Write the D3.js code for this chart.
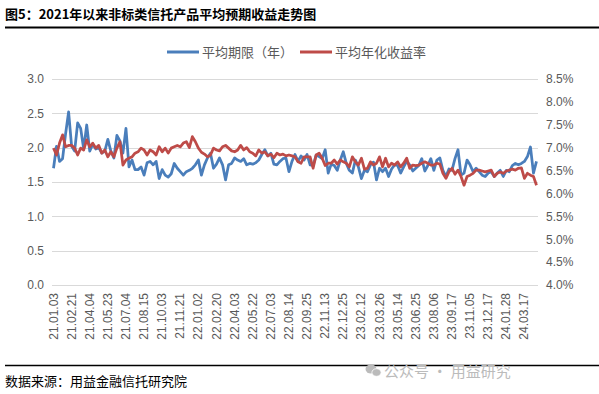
<!DOCTYPE html>
<html>
<head>
<meta charset="utf-8">
<script src="https://cdn.jsdelivr.net/npm/d3@7"></script>
<style>
  body { margin: 0; background: #fff; }
  text { font-family: "Liberation Sans", Arial, "Noto Sans CJK SC", sans-serif; }
  .cjk { font-family: "Noto Sans CJK SC", "Liberation Sans", sans-serif; }
</style>
</head>
<body>
<div id="chart"></div>
<script>
// x tick labels, one every 6 weekly points
var tickLabels = ["21.01.03","21.02.21","21.04.04","21.05.23","21.07.04","21.08.15","21.10.03",
  "21.11.21","22.01.02","22.02.20","22.04.03","22.05.22","22.07.03","22.08.14","22.09.25",
  "22.11.13","22.12.25","23.02.12","23.03.26","23.05.14","23.06.25","23.08.06","23.09.17",
  "23.11.05","23.12.17","24.01.28","24.03.17"];

// 平均期限（年）
var termYears = [
  1.70,2.02,1.80,1.84,2.20,2.52,2.02,1.95,2.36,2.28,1.98,2.33,1.95,2.05,1.98,2.00,1.92,1.95,2.12,1.95,
  1.85,2.18,2.10,1.92,2.28,1.72,1.82,1.68,1.68,1.72,1.60,1.78,1.80,1.75,1.80,1.55,1.68,1.60,1.57,1.62,
  1.77,1.70,1.65,1.60,1.65,1.67,1.70,1.75,1.82,1.60,1.75,1.85,1.92,1.70,1.76,1.85,1.75,1.53,1.75,1.77,
  1.85,1.82,1.80,1.84,1.75,1.77,1.76,1.78,1.82,1.90,1.97,1.88,1.92,1.76,1.75,1.80,1.84,1.85,1.65,1.80,
  1.90,
  1.80,1.88,1.82,1.90,1.75,1.74,1.89,1.87,1.84,1.97,1.63,1.76,1.74,1.67,1.82,1.94,1.77,1.67,1.63,1.82,
  1.72,1.55,1.67,1.65,1.75,1.79,1.53,1.70,1.65,1.70,1.58,1.69,1.75,1.74,1.63,1.72,1.80,1.75,1.66,1.70,
  1.74,
  1.84,1.66,1.74,1.84,1.67,1.82,1.85,1.67,1.58,1.69,1.67,1.84,1.97,1.60,1.63,1.82,1.75,1.65,1.70,1.65,
  1.60,1.58,1.63,1.65,1.58,1.63,1.67,1.58,1.67,1.65,1.74,1.77,1.75,1.77,1.80,1.87,2.01,1.63,1.80
];

// 平均年化收益率 (%)
var yieldPct = [
  6.99,6.84,7.10,7.28,7.02,7.05,7.05,6.99,6.84,6.99,6.95,7.17,7.02,7.10,6.99,7.05,6.88,6.95,6.80,6.91,
  6.80,6.99,7.13,6.62,6.73,6.77,6.80,6.88,6.91,6.99,6.95,6.84,6.95,6.91,6.84,7.02,6.91,6.99,6.88,6.99,
  7.02,7.05,7.02,7.10,7.13,7.00,7.24,7.13,6.99,6.90,6.86,6.80,6.84,6.99,6.95,6.93,7.02,7.05,6.99,6.93,
  6.91,6.95,7.05,6.95,7.00,6.91,6.88,6.82,6.95,6.88,6.91,6.82,6.86,6.78,6.88,6.84,6.86,6.82,6.84,6.82,
  6.80,
  6.69,6.66,6.80,6.80,6.80,6.55,6.84,6.88,6.77,6.61,6.66,6.66,6.73,6.64,6.73,6.69,6.66,6.58,6.80,6.69,
  6.62,6.77,6.53,6.55,6.69,6.62,6.66,6.80,6.58,6.77,6.58,6.66,6.62,6.69,6.58,6.66,6.77,6.55,6.62,6.61,
  6.62,
  6.66,6.69,6.66,6.62,6.62,6.66,6.64,6.44,6.33,6.47,6.55,6.42,6.51,6.37,6.18,6.37,6.40,6.44,6.51,6.51,
  6.49,6.47,6.49,6.51,6.37,6.44,6.47,6.44,6.49,6.51,6.53,6.51,6.55,6.56,6.33,6.44,6.40,6.37,6.18
];

var leftTicks = [0, 0.5, 1.0, 1.5, 2.0, 2.5, 3.0];
var rightTicks = [4.0, 4.5, 5.0, 5.5, 6.0, 6.5, 7.0, 7.5, 8.0, 8.5];

var width = 599, height = 394;
var plot = {left: 52, right: 538, top: 79, bottom: 285};
var blue = "#4a7ebb", red = "#be4b48", labelColor = "#595959";

var svg = d3.select("#chart").append("svg")
  .attr("width", width)
  .attr("height", height);

// title
svg.append("text")
  .attr("class", "cjk")
  .attr("x", 5).attr("y", 19)
  .attr("font-size", 13).attr("font-weight", "bold")
  .attr("fill", "#000")
  .text("图5：2021年以来非标类信托产品平均预期收益走势图");
svg.append("line")
  .attr("x1", 5).attr("x2", width).attr("y1", 27.5).attr("y2", 27.5)
  .attr("stroke", "#000").attr("stroke-width", 2);

var x = d3.scaleBand()
  .domain(d3.range(termYears.length))
  .range([plot.left, plot.right]);

var yL = d3.scaleLinear().domain([0, 3]).range([plot.bottom, plot.top]);
var yR = d3.scaleLinear().domain([4, 8.5]).range([plot.bottom, plot.top]);

// gridlines
svg.append("g").selectAll("line")
  .data(leftTicks)
  .enter().append("line")
  .attr("x1", plot.left).attr("x2", plot.right)
  .attr("y1", function(d) { return Math.round(yL(d)) + 0.5; })
  .attr("y2", function(d) { return Math.round(yL(d)) + 0.5; })
  .attr("stroke", "#d9d9d9").attr("stroke-width", 1);

// left axis
var axisL = svg.append("g")
  .attr("transform", "translate(" + (plot.left - 8) + ",0)")
  .call(d3.axisLeft(yL).tickValues(leftTicks).tickFormat(d3.format(".1f")).tickSize(0).tickPadding(0));
axisL.select(".domain").remove();
axisL.selectAll("text").attr("font-size", 12).attr("fill", labelColor)
  .attr("font-family", "Liberation Sans, Arial, sans-serif");

// right axis
var axisR = svg.append("g")
  .attr("transform", "translate(" + (plot.right + 8) + ",0)")
  .call(d3.axisRight(yR).tickValues(rightTicks).tickFormat(function(d) { return d.toFixed(1) + "%"; }).tickSize(0).tickPadding(0));
axisR.select(".domain").remove();
axisR.selectAll("text").attr("font-size", 12).attr("fill", labelColor)
  .attr("font-family", "Liberation Sans, Arial, sans-serif");

// x labels
svg.append("g").selectAll("text")
  .data(tickLabels)
  .enter().append("text")
  .attr("transform", function(d, i) {
    var cx = x(i * 6) + x.bandwidth() / 2;
    return "translate(" + (cx + 4) + "," + (plot.bottom + 8) + ") rotate(-90)";
  })
  .attr("text-anchor", "end")
  .attr("font-size", 12)
  .attr("fill", labelColor)
  .text(function(d) { return d; });

// lines
var lineL = d3.line()
  .x(function(d, i) { return x(i) + x.bandwidth() / 2; })
  .y(function(d) { return yL(d); });
var lineR = d3.line()
  .x(function(d, i) { return x(i) + x.bandwidth() / 2; })
  .y(function(d) { return yR(d); });

svg.append("path").datum(termYears)
  .attr("d", lineL)
  .attr("fill", "none").attr("stroke", blue)
  .attr("stroke-width", 2.75).attr("stroke-linejoin", "round");

svg.append("path").datum(yieldPct)
  .attr("d", lineR)
  .attr("fill", "none").attr("stroke", red)
  .attr("stroke-width", 2.75).attr("stroke-linejoin", "round");

// legend
var legend = [
  {name: "平均期限（年）", color: blue, x: 167},
  {name: "平均年化收益率", color: red, x: 300}
];
var lg = svg.append("g").selectAll("g")
  .data(legend)
  .enter().append("g")
  .attr("transform", function(d) { return "translate(" + d.x + ",52)"; });
lg.append("line")
  .attr("x1", 0).attr("x2", 32)
  .attr("stroke", function(d) { return d.color; })
  .attr("stroke-width", 3);
lg.append("text")
  .attr("class", "cjk")
  .attr("x", 35).attr("y", 4.5)
  .attr("font-size", 13).attr("fill", labelColor)
  .text(function(d) { return d.name; });

// footer
svg.append("line")
  .attr("x1", 5).attr("x2", width).attr("y1", 365.5).attr("y2", 365.5)
  .attr("stroke", "#000").attr("stroke-width", 1.5);
svg.append("text")
  .attr("class", "cjk")
  .attr("x", 5).attr("y", 386)
  .attr("font-size", 13).attr("fill", "#000")
  .text("数据来源：用益金融信托研究院");

// watermark
var wm = svg.append("g").attr("transform", "translate(371,370)");
wm.append("ellipse").attr("cx", 0).attr("cy", -1).attr("rx", 5.5).attr("ry", 4.6).attr("fill", "#bbb");
wm.append("ellipse").attr("cx", 5.5).attr("cy", 2.5).attr("rx", 4.6).attr("ry", 3.8).attr("fill", "#bbb").attr("stroke", "#fff").attr("stroke-width", 0.8);
wm.append("text")
  .attr("class", "cjk")
  .attr("x", 13).attr("y", 6.5)
  .attr("font-size", 15).attr("fill", "#bbb")
  .text("公众号 · 用益研究");
</script>
</body>
</html>
